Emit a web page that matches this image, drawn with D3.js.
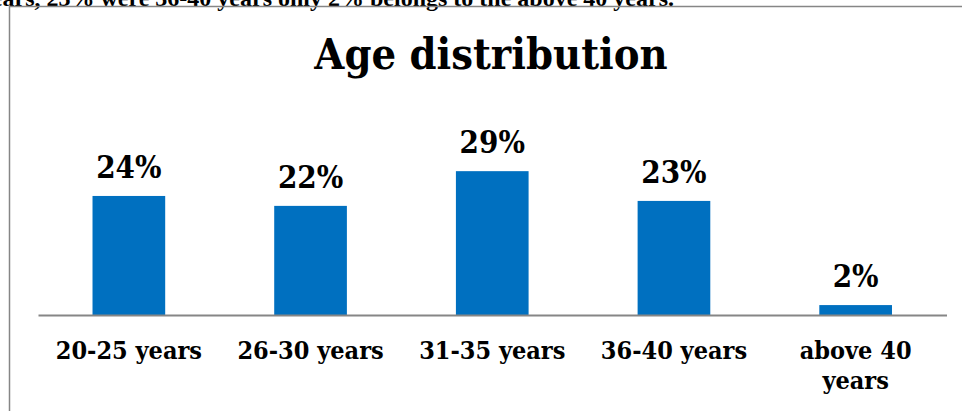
<!DOCTYPE html>
<html>
<head>
<meta charset="utf-8">
<script src="https://cdn.jsdelivr.net/npm/d3@7"></script>
<style>
  html, body { margin: 0; padding: 0; background: #fff; overflow: hidden; }
  .cambria { font-family: 'DejaVu Serif Condensed', 'DejaVu Serif', serif; font-stretch: condensed; font-weight: bold; }
</style>
</head>
<body>
<svg id="chart" width="962" height="411"></svg>
<script>
// Chart data
const categories = ['20-25 years', '26-30 years', '31-35 years', '36-40 years', 'above 40 years'];
const shares = [24, 22, 29, 23, 2];
const chartTitle = 'Age distribution';
const pageLine = 'years, 23% were 36-40 years only 2% belongs to the above 40 years.';

document.addEventListener('DOMContentLoaded', () => {
    const svg = d3.select('#chart');

    // Plot area bounds
    const plot = { left: 38, right: 946.5, base: 315, top: 166.2 };

    // Line of the document text cut off above the chart
    svg.append('text')
        .attr('x', 674)
        .attr('y', 6)
        .attr('text-anchor', 'end')
        .style('font-family', "'Liberation Serif', serif")
        .style('font-weight', 'bold')
        .style('font-size', '24px')
        .text(pageLine);

    // Chart frame (right and bottom edges are outside the view)
    svg.append('rect')
        .attr('x', 9.5)
        .attr('y', 6.5)
        .attr('width', 1000)
        .attr('height', 500)
        .attr('fill', 'none')
        .attr('stroke', '#868686')
        .attr('stroke-width', 1.5);

    const x = d3.scaleBand()
        .domain(categories)
        .range([plot.left, plot.right])
        .paddingInner(0.6)
        .paddingOuter(0.3);

    const y = d3.scaleLinear()
        .domain([0, 30])
        .range([plot.base, plot.top]);

    // Title
    svg.append('text')
        .attr('class', 'cambria')
        .attr('x', 491)
        .attr('y', 69)
        .attr('text-anchor', 'middle')
        .style('font-size', '43px')
        .text(chartTitle);

    // Bars
    svg.selectAll('.bar')
        .data(shares)
        .enter()
        .append('rect')
        .attr('class', 'bar')
        .attr('x', (d, i) => x(categories[i]))
        .attr('y', d => y(d))
        .attr('width', x.bandwidth())
        .attr('height', d => y(0) - y(d))
        .attr('fill', '#0070C0');

    // Value labels
    svg.selectAll('.value-label')
        .data(shares)
        .enter()
        .append('text')
        .attr('class', 'value-label cambria')
        .attr('x', (d, i) => x(categories[i]) + x.bandwidth() / 2)
        .attr('y', d => y(d) - 18)
        .attr('text-anchor', 'middle')
        .style('font-size', '31px')
        .text(d => d + '%');

    // Category axis
    const xAxis = svg.append('g')
        .attr('transform', `translate(0,${plot.base})`)
        .call(d3.axisBottom(x).tickSize(0).tickSizeOuter(0).tickPadding(0));

    xAxis.select('.domain')
        .attr('stroke', '#868686')
        .attr('stroke-width', 2);

    xAxis.selectAll('text')
        .attr('class', 'cambria')
        .attr('fill', '#000')
        .attr('y', 44)
        .attr('dy', null)
        .style('font-size', '25px')
        .each(function(d) {
            // wrap long labels onto two lines
            const t = d3.select(this);
            t.text(null);
            const words = d.split(' ');
            let line = [];
            let tspan = t.append('tspan').attr('x', 0);
            words.forEach(w => {
                line.push(w);
                tspan.text(line.join(' '));
                if (tspan.node().getComputedTextLength() > 165 && line.length > 1) {
                    line.pop();
                    tspan.text(line.join(' '));
                    line = [w];
                    tspan = t.append('tspan').attr('x', 0).attr('dy', '1.2em').text(w);
                }
            });
        });
});
</script>
</body>
</html>
